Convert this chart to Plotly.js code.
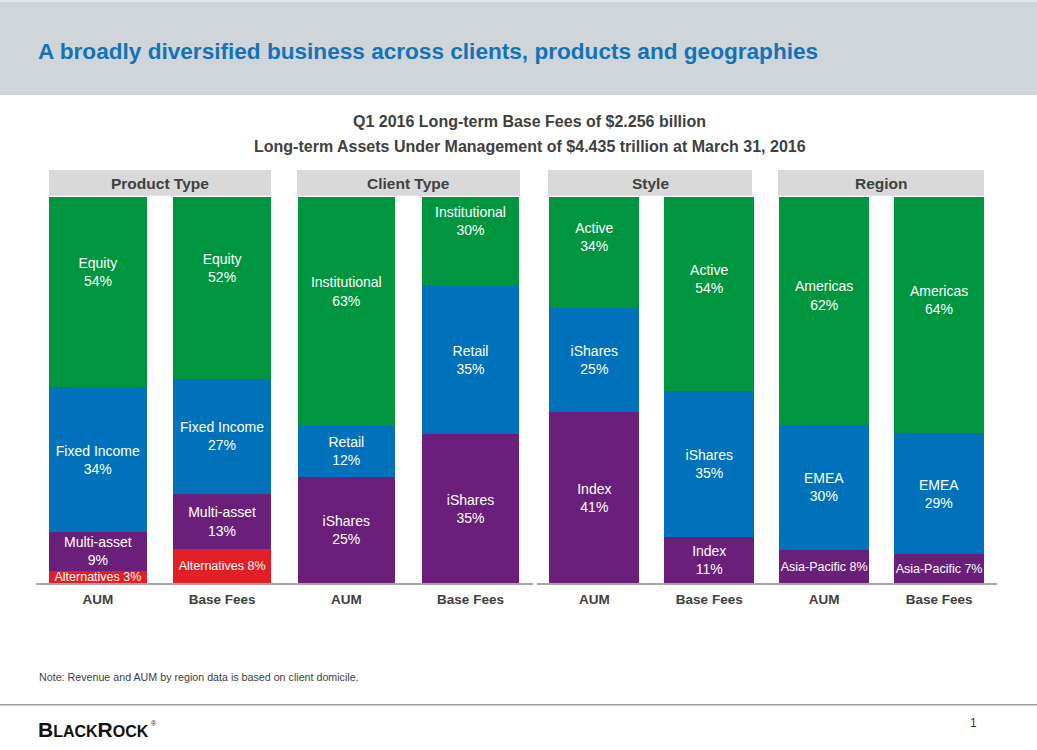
<!DOCTYPE html>
<html>
<head>
<meta charset="utf-8">
<script src="https://cdn.plot.ly/plotly-3.0.1.min.js"></script>
<style>
  html, body { margin: 0; padding: 0; background: #ffffff; }
  #chart { width: 1037px; height: 750px; }
</style>
</head>
<body>
<div id="chart"></div>
<script>
// ---------------- DATA ----------------
const barCategories = ["AUM", "Base Fees"];
const groupTitles = ["Product Type", "Client Type", "Style", "Region"];

// segments listed top to bottom
const productSegments = ["Equity", "Fixed Income", "Multi-asset", "Alternatives"];
const productAUM = [54, 34, 9, 3];
const productFees = [52, 27, 13, 8];

const clientSegments = ["Institutional", "Retail", "iShares"];
const clientAUM = [63, 12, 25];
const clientFees = [30, 35, 35];

const styleSegments = ["Active", "iShares", "Index"];
const styleAUM = [34, 25, 41];
const styleFees = [54, 35, 11];

const regionSegments = ["Americas", "EMEA", "Asia-Pacific"];
const regionAUM = [62, 30, 8];
const regionFees = [64, 29, 7];

// ---------------- STYLE ----------------
const segColors = ["#00963f", "#0072bb", "#6a1f7a", "#e21f26"]; // top -> bottom
const FONT = "Arial, 'Liberation Sans', sans-serif";
const W = 1037, H = 750;
const px = v => v / W;
const py = v => 1 - v / H;

const groups = [
  {title: groupTitles[0], seg: productSegments, aum: productAUM, fees: productFees, xa: "x", ya: "y"},
  {title: groupTitles[1], seg: clientSegments, aum: clientAUM, fees: clientFees, xa: "x", ya: "y"},
  {title: groupTitles[2], seg: styleSegments, aum: styleAUM, fees: styleFees, xa: "x2", ya: "y2"},
  {title: groupTitles[3], seg: regionSegments, aum: regionAUM, fees: regionFees, xa: "x2", ya: "y2"}
];

const traces = [];
const axisCats = {x: [], x2: []};
groups.forEach(g => {
  const xs = barCategories.map(c => g.title + "|" + c);
  axisCats[g.xa].push(...xs);
  for (let i = g.seg.length - 1; i >= 0; i--) {
    const vals = [g.aum[i], g.fees[i]];
    traces.push({
      type: "bar",
      name: g.seg[i],
      x: xs,
      y: vals,
      xaxis: g.xa,
      yaxis: g.ya,
      marker: {color: segColors[i], line: {width: 0}},
      text: vals.map(v => v <= 8 ? g.seg[i] + " " + v + "%" : g.seg[i] + "<br>" + v + "%"),
      textposition: "inside",
      insidetextanchor: "middle",
      textangle: 0,
      constraintext: "none",
      textfont: {family: FONT, color: "#ffffff", size: vals.map(v => v <= 8 ? 12.5 : 14)},
      hoverinfo: "skip",
      showlegend: false
    });
  }
});

function xAxis(cats, domain, anchor) {
  return {
    type: "category",
    domain: domain,
    anchor: anchor,
    categoryorder: "array",
    categoryarray: cats,
    tickvals: cats,
    ticktext: cats.map(c => c.split("|")[1]),
    range: [-0.5, cats.length - 0.5],
    showline: true,
    linecolor: "#a6a6a6",
    linewidth: 1.5,
    ticks: "",
    ticklabelstandoff: 3,
    tickfont: {family: FONT, size: 13.5, weight: "bold", color: "#404040"},
    showgrid: false,
    zeroline: false,
    fixedrange: true
  };
}
function yAxis(range, anchor) {
  return {
    domain: [(H - 583.3) / H, (H - 197) / H],
    range: range,
    anchor: anchor,
    visible: false,
    showgrid: false,
    zeroline: false,
    fixedrange: true
  };
}

const boxes = [[49, 271], [297, 520], [548, 752], [778, 984]];
const shapes = [
  {type: "rect", xref: "paper", yref: "paper", x0: 0, x1: 1, y0: py(95), y1: 1,
   fillcolor: "#d0d5da", line: {width: 0}, layer: "below"},
  {type: "line", xref: "paper", yref: "paper", x0: 0, x1: 1, y0: py(1), y1: py(1),
   line: {color: "#e4e7ea", width: 2}},
  {type: "line", xref: "paper", yref: "paper", x0: 0, x1: 1, y0: py(704.7), y1: py(704.7),
   line: {color: "#a0a0a0", width: 1.5}}
];
const annotations = [
  {xref: "paper", yref: "paper", x: px(36), y: py(51), xanchor: "left", yanchor: "middle",
   text: "A broadly diversified business across clients, products and geographies",
   showarrow: false, font: {family: FONT, size: 22.6, weight: "bold", color: "#1273b9"}},
  {xref: "paper", yref: "paper", x: px(529.5), y: py(122), xanchor: "center", yanchor: "middle",
   text: "Q1 2016 Long-term Base Fees of $2.256 billion",
   showarrow: false, font: {family: FONT, size: 16, weight: "bold", color: "#404040"}},
  {xref: "paper", yref: "paper", x: px(529.5), y: py(146), xanchor: "center", yanchor: "middle",
   text: "Long-term Assets Under Management of $4.435 trillion at March 31, 2016",
   showarrow: false, font: {family: FONT, size: 16, weight: "bold", color: "#404040"}},
  {xref: "paper", yref: "paper", x: px(37), y: py(677), xanchor: "left", yanchor: "middle",
   text: "Note: Revenue and AUM by region data is based on client domicile.",
   showarrow: false, font: {family: FONT, size: 10.7, color: "#404040"}},
  {xref: "paper", yref: "paper", x: px(36), y: py(729), xanchor: "left", yanchor: "middle",
   text: "B<span style='font-size:16px'>LACK</span>R<span style='font-size:16px'>OCK</span>",
   showarrow: false, font: {family: FONT, size: 21, weight: "bold", color: "#111111"}},
  {xref: "paper", yref: "paper", x: px(149), y: py(723), xanchor: "left", yanchor: "middle",
   text: "®", showarrow: false, font: {family: FONT, size: 7, color: "#111111"}},
  {xref: "paper", yref: "paper", x: px(973), y: py(723), xanchor: "center", yanchor: "middle",
   text: "1", showarrow: false, font: {family: FONT, size: 12, color: "#333333"}}
];
boxes.forEach((b, i) => {
  shapes.push({type: "rect", xref: "paper", yref: "paper", x0: px(b[0]), x1: px(b[1]),
    y0: py(195.7), y1: py(170), fillcolor: "#d9d9d9", line: {width: 0}});
  annotations.push({xref: "paper", yref: "paper", x: px((b[0] + b[1]) / 2), y: py(183),
    xanchor: "center", yanchor: "middle", text: groupTitles[i], showarrow: false,
    font: {family: FONT, size: 15.5, weight: "bold", color: "#404040"}});
});

const layout = {
  width: W, height: H,
  margin: {l: 0, r: 0, t: 0, b: 0},
  paper_bgcolor: "#ffffff",
  plot_bgcolor: "rgba(0,0,0,0)",
  barmode: "stack",
  bargap: 0.215,
  showlegend: false,
  xaxis: xAxis(axisCats.x, [px(35.8), px(532.6)], "y"),
  yaxis: yAxis([0, 90.7], "x"),
  xaxis2: xAxis(axisCats.x2, [px(536.9), px(996.5)], "y2"),
  yaxis2: yAxis([0, 92.6], "x2"),
  shapes: shapes,
  annotations: annotations,
  font: {family: FONT}
};

Plotly.newPlot("chart", traces, layout, {staticPlot: true, displayModeBar: false});
</script>
</body>
</html>
